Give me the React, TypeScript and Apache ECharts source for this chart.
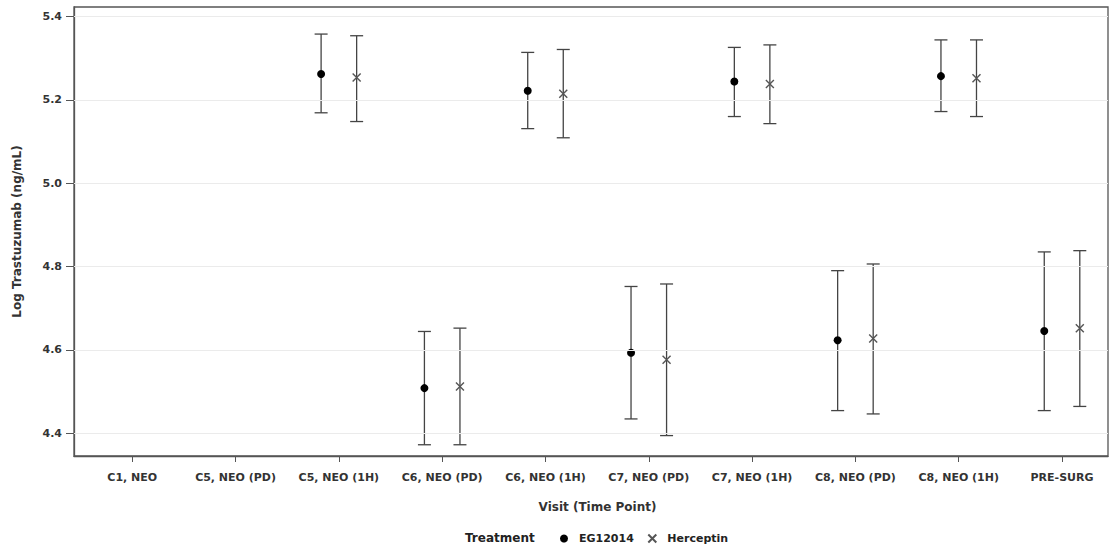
import React, { useEffect, useRef } from "react";
import * as echarts from "echarts";

const categories = [
  "C1, NEO",
  "C5, NEO (PD)",
  "C5, NEO (1H)",
  "C6, NEO (PD)",
  "C6, NEO (1H)",
  "C7, NEO (PD)",
  "C7, NEO (1H)",
  "C8, NEO (PD)",
  "C8, NEO (1H)",
  "PRE-SURG",
];
const egMean = [null, null, 5.262, 4.508, 5.222, 4.593, 5.244, 4.623, 5.257, 4.645];
const egLow = [null, null, 5.169, 4.372, 5.131, 4.434, 5.16, 4.454, 5.172, 4.454];
const egHigh = [null, null, 5.358, 4.644, 5.314, 4.752, 5.326, 4.79, 5.344, 4.835];
const hcMean = [null, null, 5.254, 4.512, 5.215, 4.576, 5.238, 4.627, 5.252, 4.652];
const hcLow = [null, null, 5.148, 4.372, 5.109, 4.394, 5.143, 4.446, 5.16, 4.464];
const hcHigh = [null, null, 5.354, 4.652, 5.321, 4.758, 5.332, 4.806, 5.344, 4.838];
const yTicks = [4.4, 4.6, 4.8, 5.0, 5.2, 5.4];

const FONT = "'DejaVu Sans', Verdana, sans-serif";
const TXT = "#333";
const OFF = 0.172;

function points(mean: (number | null)[], off: number) {
  const out: number[][] = [];
  mean.forEach((m, i) => {
    if (m != null) out.push([i + off, m]);
  });
  return out;
}
function bars(low: (number | null)[], high: (number | null)[], off: number) {
  const out: number[][] = [];
  low.forEach((l, i) => {
    const h = high[i];
    if (l != null && h != null) out.push([i + off, l, h]);
  });
  return out;
}

const renderBar = (_params: any, api: any) => {
  const x = api.value(0);
  const pLo = api.coord([x, api.value(1)]);
  const pHi = api.coord([x, api.value(2)]);
  const hw = 6.5;
  const style = { stroke: "#444", lineWidth: 1.3 };
  return {
    type: "group",
    children: [
      { type: "line", shape: { x1: pLo[0], y1: pLo[1], x2: pHi[0], y2: pHi[1] }, style },
      { type: "line", shape: { x1: pLo[0] - hw, y1: pLo[1], x2: pLo[0] + hw, y2: pLo[1] }, style },
      { type: "line", shape: { x1: pHi[0] - hw, y1: pHi[1], x2: pHi[0] + hw, y2: pHi[1] }, style },
    ],
  };
};

const CROSS = "path://M0 0L10 10M10 0L0 10";

export default function App() {
  const ref = useRef<HTMLDivElement>(null);
  useEffect(() => {
    if (!ref.current) return;
    const chart = echarts.init(ref.current, undefined, { renderer: "svg" });
    const labelStyle = { color: TXT, fontFamily: FONT, fontWeight: "bold" as const, fontSize: 11 };
    chart.setOption({
      animation: false,
      backgroundColor: "#fff",
      grid: {
        left: 74,
        right: 2,
        top: 7,
        bottom: 91,
        show: true,
        borderColor: "#555",
        borderWidth: 1.3,
        backgroundColor: "transparent",
      },
      xAxis: {
        type: "value",
        min: -0.564,
        max: 9.445,
        splitLine: { show: false },
        axisLine: { show: true, onZero: false, lineStyle: { color: "#555", width: 1.3 } },
        axisTick: { show: true, length: 6, customValues: categories.map((_, i) => i), lineStyle: { color: "#555" } },
        axisLabel: {
          ...labelStyle,
          margin: 16,
          customValues: categories.map((_, i) => i),
          formatter: (v: number) => categories[Math.round(v)] ?? "",
        },
        name: "Visit (Time Point)",
        nameLocation: "middle",
        nameGap: 45,
        nameTextStyle: { ...labelStyle, fontSize: 12, padding: [0, 0, 0, 13] },
      },
      yAxis: {
        type: "value",
        min: 4.345,
        max: 5.423,
        splitLine: { show: false },
        axisLine: { show: true, onZero: false, lineStyle: { color: "#555", width: 1.3 } },
        axisTick: { show: true, length: 8, customValues: yTicks, lineStyle: { color: "#555" } },
        axisLabel: {
          ...labelStyle,
          margin: 12,
          customValues: yTicks,
          formatter: (v: number) => v.toFixed(1),
        },
        name: "Log Trastuzumab (ng/mL)",
        nameLocation: "middle",
        nameGap: 51,
        nameTextStyle: { ...labelStyle, fontSize: 12 },
      },
      legend: {
        data: ["EG12014", "Herceptin"],
        left: 555,
        top: 527,
        itemWidth: 20,
        itemHeight: 8,
        itemGap: 12,
        textStyle: { color: "#222", fontFamily: FONT, fontWeight: "bold", fontSize: 11 },
      },
      graphic: [
        {
          type: "text",
          left: 465,
          top: 532,
          style: { text: "Treatment", fill: "#222", font: `bold 12px ${FONT}` },
        },
      ],
      series: [
        {
          name: "grid",
          type: "scatter",
          data: [],
          z: 1,
          silent: true,
          markLine: {
            silent: true,
            symbol: "none",
            label: { show: false },
            lineStyle: { color: "#ebebeb", width: 1, type: "solid" },
            data: yTicks.map((v) => ({ yAxis: v })),
          },
        },
        {
          name: "EG12014 CI",
          type: "custom",
          renderItem: renderBar,
          data: bars(egLow, egHigh, -OFF),
          z: 2,
          silent: true,
        },
        {
          name: "Herceptin CI",
          type: "custom",
          renderItem: renderBar,
          data: bars(hcLow, hcHigh, OFF),
          z: 2,
          silent: true,
        },
        {
          name: "EG12014",
          type: "scatter",
          symbol: "circle",
          symbolSize: 8,
          itemStyle: { color: "#000", opacity: 1 },
          data: points(egMean, -OFF),
          z: 3,
        },
        {
          name: "Herceptin",
          type: "scatter",
          symbol: CROSS,
          symbolSize: 8,
          itemStyle: { color: "none", borderColor: "#555", borderWidth: 1.4, opacity: 1 },
          data: points(hcMean, OFF),
          z: 3,
        },
      ],
    });
    return () => chart.dispose();
  }, []);
  return (
    <div
      ref={ref}
      style={{ position: "fixed", left: 0, top: 0, width: 1110, height: 547, background: "#fff" }}
    />
  );
}
